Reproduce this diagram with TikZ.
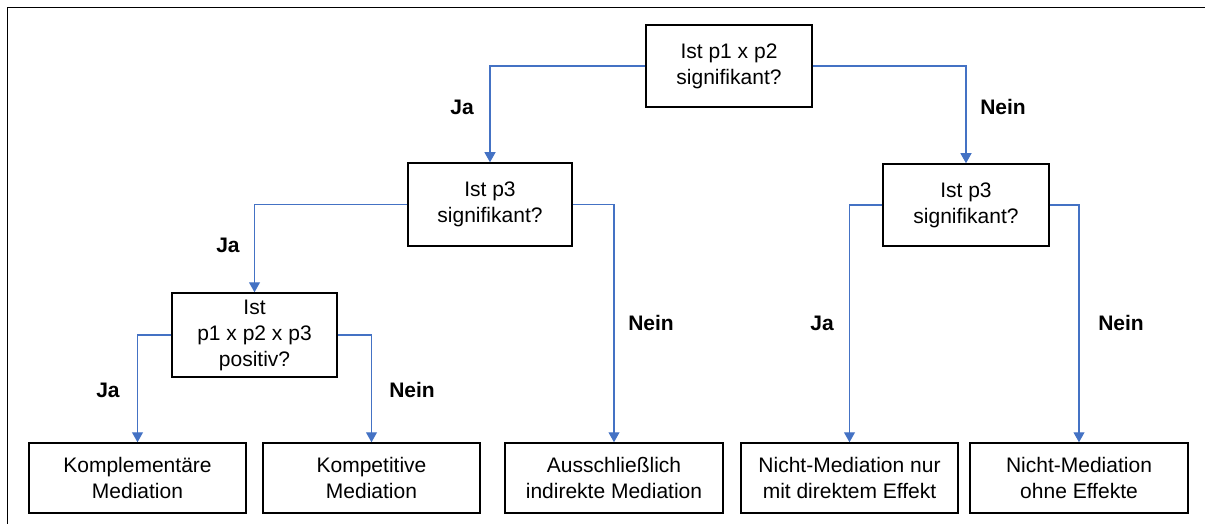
\documentclass[tikz,border=0pt]{standalone}
\usepackage{fontspec}
\setmainfont{Liberation Sans}
\usepackage{tikz}
\usetikzlibrary{arrows.meta,positioning}
\definecolor{linkblue}{RGB}{68,114,196}
\tikzset{
  question/.style={draw, line width=1.5pt, align=center, inner sep=0pt, minimum width=166pt, minimum height=82pt},
  result/.style={draw, line width=1.5pt, align=center, inner sep=0pt, minimum width=217pt, minimum height=70pt},
  answer/.style={font=\fontsize{21}{26}\selectfont\bfseries, inner sep=0pt},
  arrow/.style={-{Triangle[length=10pt,width=11pt]}, line width=1.1pt, draw=linkblue},
  frame/.style={line width=1.5pt}
}

\begin{document}
\begin{tikzpicture}[
  x=1pt,y=-1pt,
  every node/.append style={font=\fontsize{21}{26}\selectfont}
]
  \useasboundingbox (0,0) rectangle (1205,524);
  \draw[frame] (7.5,524) -- (7.5,7.5) -- (1205,7.5);

  % questions
  \node[question] (sig12) at (729,66) {Ist p1 x p2\\signifikant?};
  \node[question, minimum width=164pt, minimum height=83pt] (sig3a) at (490,204.5) {Ist p3\\signifikant?};
  \node[question] (sig3b) at (966,205) {Ist p3\\signifikant?};
  \node[question, minimum width=165pt, minimum height=84pt] (pos) at (254.5,335) {Ist\\p1 x p2 x p3\\positiv?};

  % results
  \node[result] (kompl) at (137.5,478) {Komplementäre\\Mediation};
  \node[result] (kompet) at (371.5,478) {Kompetitive\\Mediation};
  \node[result, minimum width=218pt] (indir) at (614,478) {Ausschließlich\\indirekte Mediation};
  \node[result] (direkt) at (849.5,478) {Nicht-Mediation nur\\mit direktem Effekt};
  \node[result, minimum width=218pt] (ohne) at (1079,478) {Nicht-Mediation\\ohne Effekte};

  % answers
  \node[answer] (ja1) at (462,107) {Ja};
  \node[answer] (nein1) at (1003,107) {Nein};
  \node[answer] (ja2) at (228,245) {Ja};
  \node[answer] (nein2) at (651,323) {Nein};
  \node[answer] (ja3) at (108,390) {Ja};
  \node[answer] (nein3) at (412,390) {Nein};
  \node[answer] (ja4) at (822,323) {Ja};
  \node[answer] (nein4) at (1121,323) {Nein};

  \draw[arrow] (sig12.west) -| (sig3a.north);
  \draw[arrow] (sig12.east) -| (sig3b.north);
  \draw[arrow] (sig3a.west) -| (pos.north);
  \draw[arrow] (sig3a.east) -| (indir.north);
  \draw[arrow] (pos.west) -| (kompl.north);
  \draw[arrow] (pos.east) -| (kompet.north);
  \draw[arrow] (sig3b.west) -| (direkt.north);
  \draw[arrow] (sig3b.east) -| (ohne.north);
\end{tikzpicture}
\end{document}
